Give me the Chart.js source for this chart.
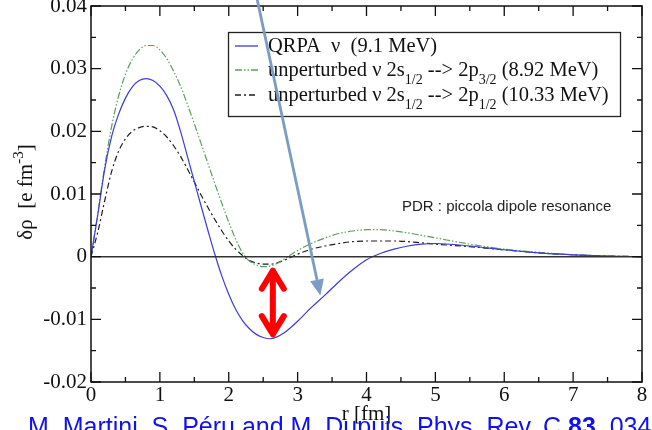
<!DOCTYPE html>
<html>
<head>
<meta charset="utf-8">
<script src="https://cdn.jsdelivr.net/npm/chart.js@4/dist/chart.umd.min.js"></script>
<style>
  html, body { margin: 0; padding: 0; background: #fff; }
  canvas { display: block; }
</style>
</head>
<body>
<canvas id="chart" width="652" height="430"></canvas>
<script>
// radial grid (fm) and transition densities (e fm^-3)
const r = [0, 0.1, 0.2, 0.3, 0.4, 0.5, 0.6, 0.7, 0.8, 0.9, 1.0, 1.1, 1.2, 1.3, 1.4, 1.5,
    1.6, 1.7, 1.8, 1.9, 2.0, 2.1, 2.2, 2.3, 2.4, 2.5, 2.6, 2.7, 2.8, 2.9, 3.0, 3.2, 3.4,
    3.6, 3.8, 4.0, 4.2, 4.4, 4.6, 4.8, 5.0, 5.5, 6.0, 6.5, 7.0, 7.5, 8.0];

const qrpa = [0, 0.0068, 0.0140, 0.0192, 0.0227, 0.0253, 0.0271, 0.0281, 0.0284, 0.0281,
    0.0272, 0.0257, 0.0234, 0.0200, 0.0160, 0.0120, 0.0080, 0.0041, 0.0003, -0.0031,
    -0.0060, -0.0084, -0.0102, -0.0115, -0.0124, -0.0129, -0.0131, -0.0128, -0.0122,
    -0.0113, -0.0103, -0.0081, -0.0061, -0.0040, -0.0021, -0.0005, 0.0005, 0.0012,
    0.0017, 0.0020, 0.0021, 0.0017, 0.0011, 0.0006, 0.0003, 0.0001, 0];

const p32 = [0, 0.0070, 0.0145, 0.0208, 0.0256, 0.0291, 0.0315, 0.0330, 0.0337, 0.0337,
    0.0330, 0.0316, 0.0296, 0.0272, 0.0243, 0.0212, 0.0180, 0.0148, 0.0116, 0.0085,
    0.0055, 0.0028, 0.0006, -0.0007, -0.0013, -0.0016, -0.0015, -0.0011, -0.0004,
    0.0003, 0.0010, 0.0021, 0.0030, 0.0037, 0.0041, 0.0043, 0.0043, 0.0041, 0.0038,
    0.0034, 0.0030, 0.0020, 0.0012, 0.0007, 0.0003, 0.0001, 0];

const p12 = [0, 0.0040, 0.0090, 0.0136, 0.0168, 0.0188, 0.0200, 0.0206, 0.0208, 0.0207,
    0.0201, 0.0191, 0.0177, 0.0160, 0.0140, 0.0119, 0.0098, 0.0078, 0.0059, 0.0041,
    0.0025, 0.0012, 0.0002, -0.0006, -0.0010, -0.0012, -0.0012, -0.0010, -0.0006,
    -0.0001, 0.0004, 0.0012, 0.0017, 0.0021, 0.0024, 0.0025, 0.0025, 0.0025, 0.0024,
    0.0022, 0.0020, 0.0016, 0.0011, 0.0006, 0.0003, 0.0001, 0];

const xTicks = [0, 1, 2, 3, 4, 5, 6, 7, 8];
const yTicks = [-0.02, -0.01, 0, 0.01, 0.02, 0.03, 0.04];

const SERIF = '"Liberation Serif", "Times New Roman", serif';
const SANS = '"Liberation Sans", Arial, sans-serif';

const styles = [
    { color: '#3c3cd8', dash: [] },
    { color: '#5aa05a', dash: [7, 2, 1.5, 2, 1.5, 2] },
    { color: '#1e1e1e', dash: [6, 3, 2, 3] }
];

function series(values, st) {
    return {
        data: r.map((x, i) => ({ x: x, y: values[i] })),
        borderColor: st.color,
        borderWidth: 1.2,
        borderDash: st.dash,
        pointRadius: 0,
        fill: false,
        cubicInterpolationMode: 'monotone'
    };
}

// text runs: [text, 'n' | 'sub' | 'sup']
const legendRows = [
    [['QRPA  \u03bd  (9.1 MeV)', 'n']],
    [['unperturbed \u03bd 2s', 'n'], ['1/2', 'sub'], [' --> 2p', 'n'], ['3/2', 'sub'], [' (8.92 MeV)', 'n']],
    [['unperturbed \u03bd 2s', 'n'], ['1/2', 'sub'], [' --> 2p', 'n'], ['1/2', 'sub'], [' (10.33 MeV)', 'n']]
];

function drawRuns(ctx, runs, x, y, size) {
    runs.forEach(([t, kind]) => {
        const s = kind === 'n' ? size : Math.round(size * 0.7);
        ctx.font = s + 'px ' + SERIF;
        const dy = kind === 'sub' ? size * 0.38 : kind === 'sup' ? -size * 0.42 : 0;
        ctx.fillText(t, x, y + dy);
        x += ctx.measureText(t).width;
    });
    return x;
}

function runsWidth(ctx, runs, size) {
    let w = 0;
    runs.forEach(([t, kind]) => {
        const s = kind === 'n' ? size : Math.round(size * 0.7);
        ctx.font = s + 'px ' + SERIF;
        w += ctx.measureText(t).width;
    });
    return w;
}

const decorations = {
    id: 'decorations',
    afterDatasetsDraw(chart) {
        const { ctx, chartArea: a, scales: { x, y } } = chart;
        ctx.save();

        // zero line
        ctx.strokeStyle = '#333';
        ctx.lineWidth = 1.5;
        ctx.beginPath();
        ctx.moveTo(a.left, y.getPixelForValue(0));
        ctx.lineTo(a.right, y.getPixelForValue(0));
        ctx.stroke();

        // frame
        ctx.strokeStyle = '#111';
        ctx.lineWidth = 1.5;
        ctx.strokeRect(a.left, a.top, a.right - a.left, a.bottom - a.top);

        // inward ticks on all four sides, minor ones halfway
        ctx.lineWidth = 1.3;
        ctx.beginPath();
        xTicks.forEach((v, i) => {
            const list = [[v, 10]];
            if (i < xTicks.length - 1) list.push([(v + xTicks[i + 1]) / 2, 5]);
            list.forEach(([t, len]) => {
                const px = x.getPixelForValue(t);
                ctx.moveTo(px, a.bottom); ctx.lineTo(px, a.bottom - len);
                ctx.moveTo(px, a.top); ctx.lineTo(px, a.top + len);
            });
        });
        yTicks.forEach((v, i) => {
            const list = [[v, 10]];
            if (i < yTicks.length - 1) list.push([(v + yTicks[i + 1]) / 2, 5]);
            list.forEach(([t, len]) => {
                const py = y.getPixelForValue(t);
                ctx.moveTo(a.left, py); ctx.lineTo(a.left + len, py);
                ctx.moveTo(a.right, py); ctx.lineTo(a.right - len, py);
            });
        });
        ctx.stroke();

        // legend box
        const bx = 228.5, by = 32.5, bw = 392, bh = 84;
        ctx.fillStyle = '#fff';
        ctx.fillRect(bx, by, bw, bh);
        ctx.strokeStyle = '#222';
        ctx.lineWidth = 1.3;
        ctx.strokeRect(bx, by, bw, bh);
        const baselines = [52, 76, 101];
        legendRows.forEach((runs, i) => {
            const st = styles[i];
            ctx.strokeStyle = st.color;
            ctx.lineWidth = 1.3;
            ctx.setLineDash(st.dash);
            ctx.beginPath();
            ctx.moveTo(235, baselines[i] - 6);
            ctx.lineTo(258, baselines[i] - 6);
            ctx.stroke();
            ctx.setLineDash([]);
            ctx.fillStyle = '#111';
            ctx.textBaseline = 'alphabetic';
            ctx.textAlign = 'left';
            drawRuns(ctx, runs, 268, baselines[i], 20.5);
        });

        // note
        ctx.fillStyle = '#222';
        ctx.font = '15px ' + SANS;
        ctx.fillText('PDR : piccola dipole resonance', 402, 211);

        ctx.restore();
    },
    afterDraw(chart) {
        const { ctx, chartArea: a, scales: { x, y } } = chart;
        ctx.save();

        // axis titles
        ctx.fillStyle = '#111';
        ctx.textAlign = 'left';
        ctx.textBaseline = 'alphabetic';
        ctx.font = '21px ' + SERIF;
        const xt = 'r [fm]';
        const xw = ctx.measureText(xt).width;
        ctx.fillText(xt, (a.left + a.right) / 2 - xw / 2, 420);

        const yRuns = [['\u03b4\u03c1  [e fm', 'n'], ['-3', 'sup'], [']', 'n']];
        const yw = runsWidth(ctx, yRuns, 21);
        ctx.translate(32, 192 + yw / 2);
        ctx.rotate(-Math.PI / 2);
        drawRuns(ctx, yRuns, 0, 0, 21);
        ctx.setTransform(1, 0, 0, 1, 0, 0);

        // red double arrow between the two minima
        const rx = x.getPixelForValue(2.64);
        const rTop = y.getPixelForValue(-0.0016);
        const rBot = y.getPixelForValue(-0.0130);
        ctx.strokeStyle = '#ff0000';
        ctx.lineWidth = 6;
        ctx.lineCap = 'round';
        ctx.lineJoin = 'round';
        ctx.beginPath();
        ctx.moveTo(rx, rTop + 4); ctx.lineTo(rx, rBot - 4);
        ctx.moveTo(rx - 11, rTop + 22); ctx.lineTo(rx, rTop + 4); ctx.lineTo(rx + 11, rTop + 22);
        ctx.moveTo(rx - 11, rBot - 22); ctx.lineTo(rx, rBot - 4); ctx.lineTo(rx + 11, rBot - 22);
        ctx.stroke();

        // pointer arrow coming from above the frame
        const x0 = x.getPixelForValue(2.41), y0 = y.getPixelForValue(0.0412);
        const x1 = x.getPixelForValue(3.33), y1 = y.getPixelForValue(-0.0062);
        const ang = Math.atan2(y1 - y0, x1 - x0);
        const hl = 16, hw = 7;
        const bxp = x1 - hl * Math.cos(ang), byp = y1 - hl * Math.sin(ang);
        ctx.strokeStyle = '#7b9cc3';
        ctx.fillStyle = '#7b9cc3';
        ctx.lineWidth = 2.8;
        ctx.lineCap = 'butt';
        ctx.beginPath();
        ctx.moveTo(x0, y0); ctx.lineTo(bxp, byp);
        ctx.stroke();
        ctx.beginPath();
        ctx.moveTo(x1, y1);
        ctx.lineTo(bxp + hw * Math.sin(ang), byp - hw * Math.cos(ang));
        ctx.lineTo(bxp - hw * Math.sin(ang), byp + hw * Math.cos(ang));
        ctx.closePath();
        ctx.fill();

        // reference line along the bottom edge
        ctx.fillStyle = '#1010f0';
        ctx.textBaseline = 'alphabetic';
        let cx = 28;
        const cy = 435;
        [['M. Martini, S. P\u00e9ru and M. Dupuis, Phys. Rev. C ', ''], ['83', 'bold '], [', 034309 (2011)', '']]
            .forEach(([t, w]) => {
                ctx.font = w + '25px ' + SANS;
                ctx.fillText(t, cx, cy);
                cx += ctx.measureText(t).width;
            });

        ctx.restore();
    }
};

new Chart(document.getElementById('chart'), {
    type: 'line',
    data: {
        datasets: [series(qrpa, styles[0]), series(p32, styles[1]), series(p12, styles[2])]
    },
    options: {
        responsive: false,
        animation: false,
        layout: { padding: { top: 6, right: 10, left: 0, bottom: 0 } },
        plugins: { legend: { display: false }, tooltip: { enabled: false } },
        scales: {
            x: {
                type: 'linear',
                min: 0,
                max: 8,
                afterBuildTicks: s => { s.ticks = xTicks.map(v => ({ value: v })); },
                ticks: {
                    color: '#111',
                    font: { family: SERIF, size: 21 },
                    padding: 1,
                    maxRotation: 0,
                    callback: v => String(v)
                },
                grid: { display: false, drawTicks: false },
                border: { display: false },
                afterFit: s => { s.height = 48; s.paddingLeft = 0; s.paddingRight = 0; }
            },
            y: {
                type: 'linear',
                min: -0.02,
                max: 0.04,
                afterBuildTicks: s => { s.ticks = yTicks.map(v => ({ value: v })); },
                ticks: {
                    color: '#111',
                    font: { family: SERIF, size: 21 },
                    padding: 4,
                    callback: v => Math.abs(v) < 1e-9 ? '0' : v.toFixed(2)
                },
                grid: { display: false, drawTicks: false },
                border: { display: false },
                afterFit: s => { s.width = 91; s.paddingTop = 0; s.paddingBottom = 0; }
            }
        }
    },
    plugins: [decorations]
});
</script>
</body>
</html>
